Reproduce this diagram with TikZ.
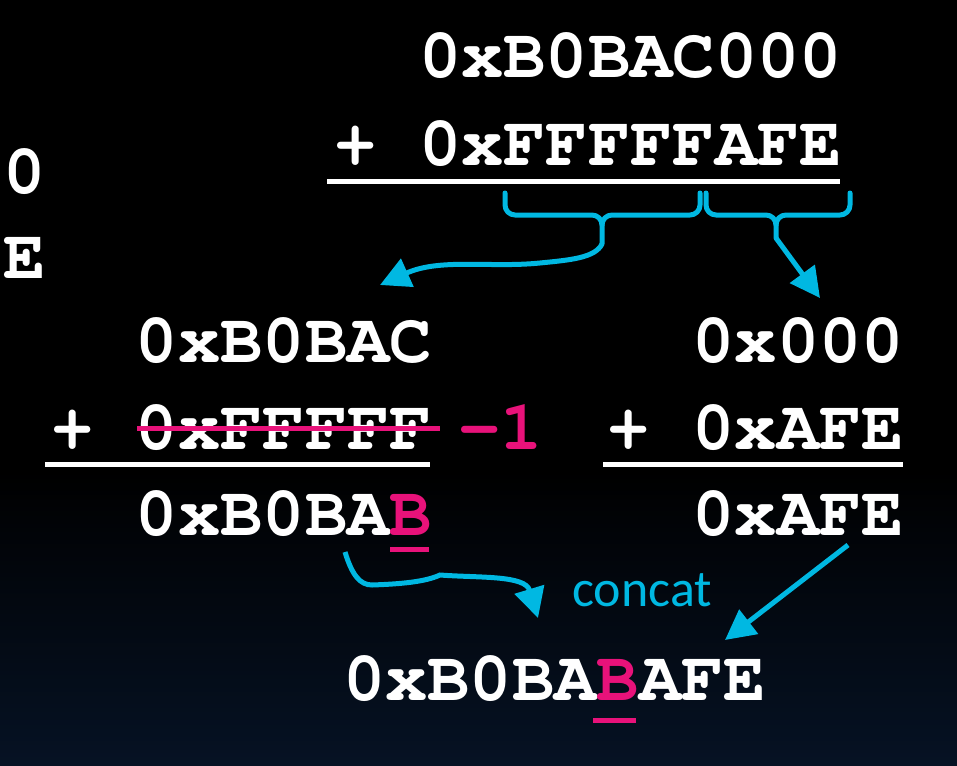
\documentclass[tikz,border=0pt]{standalone}
\usepackage[T1,TU]{fontenc}
\usepackage{fontspec}
\newfontfamily\calib{Carlito}
\newcommand{\courb}{\fontencoding{T1}\fontfamily{pcr}\fontseries{b}\fontshape{n}}
\usetikzlibrary{arrows.meta}
\definecolor{cy}{RGB}{0,184,226}
\definecolor{mg}{RGB}{232,18,122}
\definecolor{navy}{RGB}{6,18,36}
\tikzset{
  hexnum/.style={text=white, inner sep=0pt, outer sep=0pt, font=\courb\fontsize{70.5}{80}\selectfont},
  rule/.style={white, line width=5pt},
  brace/.style={cy, line width=5pt, line join=round, line cap=round},
  carrow/.style={cy, line width=5pt, -{Triangle[length=30pt,width=30pt]}},
  mline/.style={mg, line width=5pt},
}
\begin{document}
\begin{tikzpicture}[x=1pt,y=-1pt]
\useasboundingbox (0,0) rectangle (957,765);
\fill[black] (0,0) rectangle (957,765);
\shade[top color=black, bottom color=navy] (0,470) rectangle (957,765);
\clip (0,0) rectangle (957,765);
% left cut-off column
\node[hexnum, anchor=base east] (l1) at (46,193) {0xB0BAC000};
\node[hexnum, anchor=base east] (l2) at (46,278) {+ 0xFFFFFAFE};
% top sum
\node[hexnum, anchor=base east] (t1) at (842,78) {0xB0BAC000};
\node[hexnum, anchor=base east] (t2) at (842,165) {+ 0xFFFFFAFE};
\draw[rule] (327,181) -- (840,181);
% braces
\draw[brace] (505,193) -- (505,205) to[out=-90,in=180] (515,215) -- (592,215) to[out=0,in=90] (602,225) -- (602,244);
\draw[brace] (602,225) to[out=90,in=180] (612,215) -- (690,215) to[out=0,in=-90] (700,205) -- (700,193);
\draw[brace] (706,193) -- (706,205) to[out=-90,in=180] (716,215) -- (766,215) to[out=0,in=90] (776,225) -- (776,238);
\draw[brace] (776,225) to[out=90,in=180] (786,215) -- (840,215) to[out=0,in=-90] (850,205) -- (850,193);
\coordinate (b1) at (602,244);
\coordinate (b2) at (776,238);
% middle left
\node[hexnum, anchor=base east] (a1) at (432,362) {0xB0BAC};
\node[hexnum, anchor=base east] (a2) at (432,449) {+ 0xFFFFF};
\draw[rule] (45,464) -- (430,464);
\node[hexnum, anchor=base east] (a3) at (432,535) {0xB0BA\textcolor{mg}{B}};
\draw[mline] (137,428) -- (440,428);
\node[hexnum, anchor=base west, text=mg] (m1) at (458,449) {-1};
\draw[mline] (390,549) -- (429,549);
% middle right
\node[hexnum, anchor=base east] (c1) at (904,362) {0x000};
\node[hexnum, anchor=base east] (c2) at (904,449) {+ 0xAFE};
\draw[rule] (603,464) -- (903,464);
\node[hexnum, anchor=base east] (c3) at (904,535) {0xAFE};
% bottom result
\node[hexnum, anchor=base east] (r) at (766,700) {0xB0BA\textcolor{mg}{B}AFE};
\draw[mline] (593,720) -- (636,720);
\node[anchor=base west, inner sep=0pt, text=cy, font=\calib\fontsize{52}{60}\selectfont] (cc) at (572,606) {concat};
% arrows
\coordinate (p1) at (345,552);
\coordinate (q1) at (538,618);
\coordinate (tA) at (380,285);
\coordinate (tB) at (820,298);
\coordinate (p4) at (848,545);
\coordinate (q4) at (725,640);
\draw[carrow] (b1) .. controls (595,258) and (570,260) .. (540,263) .. controls (490,268) and (440,258) .. (tA);
\draw[carrow] (b2) -- (tB);
\draw[carrow] (p1) .. controls (352,575) and (360,585) .. (372,585) .. controls (400,584) and (425,582) .. (440,575) .. controls (480,578) and (525,575) .. (q1);
\draw[carrow] (p4) -- (q4);
\end{tikzpicture}
\end{document}
